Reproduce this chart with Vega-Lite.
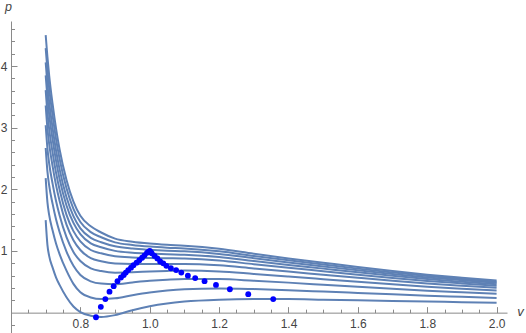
{
  "$schema": "https://vega.github.io/schema/vega-lite/v6.json",
  "width": 496,
  "height": 312,
  "autosize": {"type": "none"},
  "padding": {"left": 11, "top": 21, "right": 19, "bottom": 0},
  "background": "white",
  "config": {
    "view": {"stroke": null},
    "axis": {"labelFont": "Liberation Sans", "titleFont": "Liberation Sans", "grid": false, "domainColor": "#8a8a8a", "tickColor": "#8a8a8a", "labelColor": "#444444", "titleColor": "#444444", "labelFontSize": 12, "domainWidth": 1, "tickWidth": 1}
  },
  "datasets": {
    "curves": [
      {"v": 0.700, "c0": 1.5, "c1": 2.181, "c2": 2.67, "c3": 3.039, "c4": 3.36, "c5": 3.609, "c6": 3.849, "c7": 4.059, "c8": 4.29, "c9": 4.5},
      {"v": 0.705, "c0": 1.1, "c1": 1.792, "c2": 2.29, "c3": 2.665, "c4": 2.991, "c5": 3.244, "c6": 3.488, "c7": 3.702, "c8": 3.937, "c9": 4.15},
      {"v": 0.710, "c0": 0.92, "c1": 1.585, "c2": 2.063, "c3": 2.423, "c4": 2.737, "c5": 2.98, "c6": 3.214, "c7": 3.419, "c8": 3.645, "c9": 3.85},
      {"v": 0.720, "c0": 0.73, "c1": 1.332, "c2": 1.764, "c3": 2.089, "c4": 2.373, "c5": 2.593, "c6": 2.805, "c7": 2.99, "c8": 3.195, "c9": 3.38},
      {"v": 0.730, "c0": 0.57, "c1": 1.117, "c2": 1.51, "c3": 1.806, "c4": 2.064, "c5": 2.264, "c6": 2.457, "c7": 2.626, "c8": 2.811, "c9": 2.98},
      {"v": 0.740, "c0": 0.45, "c1": 0.949, "c2": 1.308, "c3": 1.579, "c4": 1.814, "c5": 1.997, "c6": 2.173, "c7": 2.327, "c8": 2.496, "c9": 2.65},
      {"v": 0.760, "c0": 0.25, "c1": 0.681, "c2": 0.991, "c3": 1.225, "c4": 1.428, "c5": 1.586, "c6": 1.738, "c7": 1.871, "c8": 2.017, "c9": 2.15},
      {"v": 0.780, "c0": 0.1, "c1": 0.467, "c2": 0.76, "c3": 0.984, "c4": 1.174, "c5": 1.322, "c6": 1.455, "c7": 1.565, "c8": 1.684, "c9": 1.8},
      {"v": 0.800, "c0": 0.01, "c1": 0.33, "c2": 0.611, "c3": 0.837, "c4": 1.016, "c5": 1.157, "c6": 1.274, "c7": 1.367, "c8": 1.469, "c9": 1.57},
      {"v": 0.830, "c0": -0.05, "c1": 0.247, "c2": 0.508, "c3": 0.719, "c4": 0.885, "c5": 1.016, "c6": 1.125, "c7": 1.212, "c8": 1.306, "c9": 1.4},
      {"v": 0.860, "c0": -0.07, "c1": 0.222, "c2": 0.471, "c3": 0.674, "c4": 0.834, "c5": 0.962, "c6": 1.06, "c7": 1.142, "c8": 1.223, "c9": 1.3},
      {"v": 0.900, "c0": -0.04, "c1": 0.233, "c2": 0.462, "c3": 0.648, "c4": 0.797, "c5": 0.915, "c6": 1.002, "c7": 1.076, "c8": 1.14, "c9": 1.2},
      {"v": 0.950, "c0": 0.04, "c1": 0.284, "c2": 0.49, "c3": 0.656, "c4": 0.789, "c5": 0.895, "c6": 0.972, "c7": 1.039, "c8": 1.097, "c9": 1.15},
      {"v": 1.000, "c0": 0.105, "c1": 0.328, "c2": 0.516, "c3": 0.668, "c4": 0.79, "c5": 0.887, "c6": 0.958, "c7": 1.019, "c8": 1.071, "c9": 1.12},
      {"v": 1.050, "c0": 0.15, "c1": 0.359, "c2": 0.535, "c3": 0.677, "c4": 0.791, "c5": 0.882, "c6": 0.948, "c7": 1.005, "c8": 1.054, "c9": 1.1},
      {"v": 1.100, "c0": 0.18, "c1": 0.379, "c2": 0.547, "c3": 0.682, "c4": 0.791, "c5": 0.877, "c6": 0.94, "c7": 0.995, "c8": 1.042, "c9": 1.085},
      {"v": 1.200, "c0": 0.21, "c1": 0.392, "c2": 0.544, "c3": 0.668, "c4": 0.767, "c5": 0.845, "c6": 0.903, "c7": 0.953, "c8": 0.995, "c9": 1.035},
      {"v": 1.300, "c0": 0.22, "c1": 0.382, "c2": 0.518, "c3": 0.628, "c4": 0.716, "c5": 0.786, "c6": 0.837, "c7": 0.882, "c8": 0.92, "c9": 0.955},
      {"v": 1.400, "c0": 0.22, "c1": 0.365, "c2": 0.487, "c3": 0.586, "c4": 0.666, "c5": 0.728, "c6": 0.774, "c7": 0.814, "c8": 0.848, "c9": 0.88},
      {"v": 1.500, "c0": 0.21, "c1": 0.342, "c2": 0.453, "c3": 0.543, "c4": 0.615, "c5": 0.672, "c6": 0.714, "c7": 0.75, "c8": 0.781, "c9": 0.81},
      {"v": 1.600, "c0": 0.2, "c1": 0.319, "c2": 0.419, "c3": 0.5, "c4": 0.565, "c5": 0.616, "c6": 0.654, "c7": 0.686, "c8": 0.714, "c9": 0.74},
      {"v": 1.700, "c0": 0.19, "c1": 0.297, "c2": 0.386, "c3": 0.459, "c4": 0.517, "c5": 0.563, "c6": 0.597, "c7": 0.627, "c8": 0.652, "c9": 0.675},
      {"v": 1.800, "c0": 0.18, "c1": 0.276, "c2": 0.356, "c3": 0.421, "c4": 0.474, "c5": 0.515, "c6": 0.545, "c7": 0.572, "c8": 0.594, "c9": 0.615},
      {"v": 1.900, "c0": 0.17, "c1": 0.257, "c2": 0.33, "c3": 0.389, "c4": 0.437, "c5": 0.474, "c6": 0.502, "c7": 0.526, "c8": 0.546, "c9": 0.565},
      {"v": 2.000, "c0": 0.16, "c1": 0.239, "c2": 0.306, "c3": 0.36, "c4": 0.403, "c5": 0.437, "c6": 0.462, "c7": 0.484, "c8": 0.503, "c9": 0.52}
    ],
    "dots": [
      {"v": 0.845, "p": -0.075}, {"v": 0.859, "p": 0.094}, {"v": 0.872, "p": 0.22}, {"v": 0.884, "p": 0.34},
      {"v": 0.896, "p": 0.43}, {"v": 0.907, "p": 0.51}, {"v": 0.917, "p": 0.57}, {"v": 0.925, "p": 0.61},
      {"v": 0.931, "p": 0.65}, {"v": 0.938, "p": 0.69}, {"v": 0.946, "p": 0.73}, {"v": 0.953, "p": 0.77},
      {"v": 0.962, "p": 0.81}, {"v": 0.970, "p": 0.85}, {"v": 0.978, "p": 0.89}, {"v": 0.985, "p": 0.93},
      {"v": 0.992, "p": 0.97}, {"v": 0.996, "p": 0.985}, {"v": 1.0, "p": 1.0}, {"v": 1.003, "p": 0.98},
      {"v": 1.006, "p": 0.96}, {"v": 1.014, "p": 0.92}, {"v": 1.022, "p": 0.88}, {"v": 1.030, "p": 0.83},
      {"v": 1.039, "p": 0.80}, {"v": 1.048, "p": 0.76}, {"v": 1.061, "p": 0.72}, {"v": 1.076, "p": 0.69},
      {"v": 1.091, "p": 0.65}, {"v": 1.110, "p": 0.60}, {"v": 1.131, "p": 0.56}, {"v": 1.158, "p": 0.51},
      {"v": 1.191, "p": 0.45}, {"v": 1.231, "p": 0.38}, {"v": 1.284, "p": 0.30}, {"v": 1.356, "p": 0.22}
    ]
  },
  "layer": [
    {
      "data": {"name": "curves"},
      "transform": [{"fold": ["c0", "c1", "c2", "c3", "c4", "c5", "c6", "c7", "c8", "c9"], "as": ["curve", "p"]}],
      "mark": {"type": "line", "color": "#5E81B5", "strokeWidth": 2, "interpolate": "monotone", "clip": true},
      "encoding": {
        "x": {"field": "v", "type": "quantitative", "scale": {"domain": [0.6, 2.03], "nice": false, "zero": false},
          "axis": {"orient": "bottom", "offset": -20.35, "values": [0.8, 1.0, 1.2, 1.4, 1.6, 1.8, 2.0], "format": ".1f", "ticks": false, "tickSize": 0, "labelPadding": 6, "domain": true, "labelFlush": false, "labelOverlap": false,
            "title": "v", "titleX": 509, "titleY": -1, "titleAlign": "center", "titleBaseline": "middle", "titleFontStyle": "italic", "titleFontWeight": "normal", "titleFontSize": 13}},
        "y": {"field": "p", "type": "quantitative", "scale": {"domain": [-0.33, 4.73], "nice": false, "zero": false},
          "axis": {"orient": "left", "values": [1, 2, 3, 4], "ticks": false, "tickSize": 0, "labelPadding": 4, "domain": true, "labelFlush": false, "labelOverlap": false,
            "title": "p", "titleX": -3, "titleY": -10.5, "titleAngle": 0, "titleAlign": "center", "titleBaseline": "alphabetic", "titleFontStyle": "italic", "titleFontWeight": "normal", "titleFontSize": 12.5}},
        "detail": {"field": "curve", "type": "nominal"}
      }
    },
    {
      "data": {"name": "dots"},
      "mark": {"type": "circle", "color": "#0000FF", "size": 34, "opacity": 1},
      "encoding": {
        "x": {"field": "v", "type": "quantitative", "axis": {"orient": "top", "offset": -291.65, "values": [0.8, 1.0, 1.2, 1.4, 1.6, 1.8, 2.0], "labels": false, "ticks": true, "tickSize": 6, "domain": false, "title": null}},
        "y": {"field": "p", "type": "quantitative", "axis": {"orient": "right", "offset": -496, "values": [1, 2, 3, 4], "labels": false, "ticks": true, "tickSize": 6, "domain": false, "title": null}}
      }
    },
    {
      "data": {"name": "dots"},
      "mark": {"type": "circle", "opacity": 0},
      "encoding": {
        "x": {"field": "v", "type": "quantitative", "axis": {"orient": "top", "offset": -291.65, "values": [0.65, 0.7, 0.75, 0.85, 0.9, 0.95, 1.05, 1.1, 1.15, 1.25, 1.3, 1.35, 1.45, 1.5, 1.55, 1.65, 1.7, 1.75, 1.85, 1.9, 1.95], "labels": false, "ticks": true, "tickSize": 3.5, "domain": false, "title": null}},
        "y": {"field": "p", "type": "quantitative", "axis": {"orient": "right", "offset": -496, "values": [-0.2, 0.2, 0.4, 0.6, 0.8, 1.2, 1.4, 1.6, 1.8, 2.2, 2.4, 2.6, 2.8, 3.2, 3.4, 3.6, 3.8, 4.2, 4.4, 4.6], "labels": false, "ticks": true, "tickSize": 3.5, "domain": false, "title": null}}
      }
    }
  ],
  "resolve": {"axis": {"x": "independent", "y": "independent"}}
}
